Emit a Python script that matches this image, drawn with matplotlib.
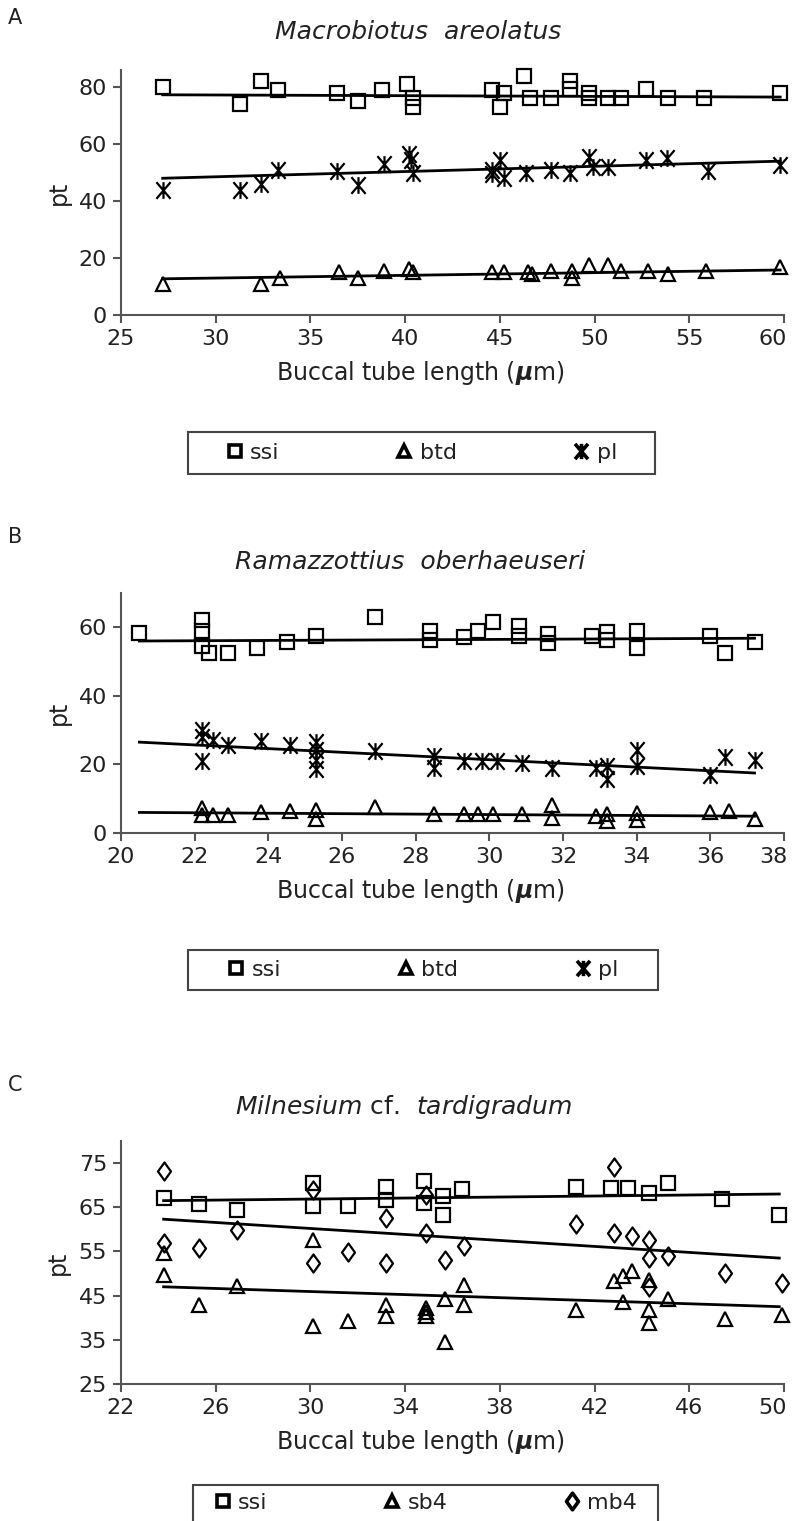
import matplotlib
matplotlib.use('Agg')
import matplotlib.pyplot as plt
from matplotlib.path import Path
from matplotlib.patches import Rectangle
from matplotlib.lines import Line2D
from matplotlib.transforms import ScaledTranslation

plt.rcParams['font.family'] = ['DejaVu Sans']
plt.rcParams['mathtext.fontset'] = 'dejavusans'

# ---- panel A: Macrobiotus areolatus ----
a_ssi_x = [27.2, 31.3, 32.4, 33.3, 36.4, 37.5, 38.8, 40.1, 40.4, 40.4, 44.6, 45.2, 45.0,
           46.3, 46.6, 47.7, 48.7, 48.7, 49.7, 49.7, 50.7, 51.4, 52.7, 53.9, 55.8, 59.8]
a_ssi_y = [80, 74, 82, 79, 78, 75, 79, 81, 76, 73, 79, 78, 73,
           84, 76, 76, 82, 79.5, 78, 76, 76, 76, 79.5, 76, 76, 78]
a_btd_x = [27.2, 32.4, 33.4, 36.5, 37.5, 38.9, 40.2, 40.4, 44.6, 45.2, 46.5, 46.7, 47.7,
           48.8, 48.8, 49.7, 50.7, 51.4, 52.8, 53.9, 55.9, 59.8]
a_btd_y = [11, 11, 13, 15, 13, 15.5, 16, 15, 15, 15, 15, 14.5, 15.5,
           13, 15.5, 17.5, 17.5, 15.5, 15.5, 14.5, 15.5, 17]
a_pl_x = [27.2, 31.3, 32.4, 33.3, 36.4, 37.5, 38.9, 40.2, 40.3, 40.4, 44.6, 44.6, 45.0,
          45.2, 46.4, 47.7, 48.7, 49.7, 49.9, 50.7, 52.7, 53.8, 56.0, 59.8]
a_pl_y = [44, 44, 46, 51, 50.5, 45.5, 53, 56.5, 54.5, 50, 51, 49.5, 54.5,
          48, 50, 51, 50, 55.5, 52, 52, 54.5, 55, 50.5, 52.5]
a_fit_x = [27.2, 59.8]
a_fit_ssi = [77.3, 76.5]
a_fit_btd = [12.7, 15.8]
a_fit_pl = [48.0, 54.0]

# ---- panel B: Ramazzottius oberhaeuseri ----
b_ssi_x = [20.5, 22.2, 22.2, 22.2, 22.4, 22.9, 23.7, 24.5, 25.3, 26.9, 28.4, 28.4, 29.3, 29.7,
           30.1, 30.8, 30.8, 31.6, 31.6, 32.8, 33.2, 33.2, 34.0, 34.0, 36.0, 36.4, 37.2]
b_ssi_y = [58.4, 62, 59, 54.5, 52.5, 52.5, 54, 55.6, 57.4, 63, 59, 56.4, 57.2, 59,
           61.6, 60.3, 57.4, 57.9, 55.4, 57.4, 58.7, 56.4, 59, 54, 57.4, 52.5, 55.6]
b_btd_x = [22.2, 22.2, 22.5, 22.9, 23.8, 24.6, 25.3, 25.3, 26.9, 28.5, 29.3, 29.7, 30.1,
           30.9, 31.7, 31.7, 32.9, 33.2, 33.2, 34.0, 34.0, 36.0, 36.5, 37.2]
b_btd_y = [7.3, 5.3, 5.3, 5.3, 6, 6.3, 6.8, 4.1, 7.5, 5.6, 5.6, 5.6, 5.6,
           5.6, 8.3, 4.4, 4.9, 5.6, 3.4, 5.8, 3.7, 6, 6.3, 4.1]
b_pl_x = [22.2, 22.2, 22.2, 22.5, 22.9, 23.8, 24.6, 25.3, 25.3, 25.3, 25.3, 26.9, 28.5, 28.5,
          29.3, 29.8, 30.2, 30.9, 31.7, 32.9, 33.2, 33.2, 34.0, 34.0, 36.0, 36.4, 37.2]
b_pl_y = [30, 28, 21, 27, 25.8, 26.8, 25.8, 26.5, 24.3, 21.4, 18.7, 23.8, 22.6, 19,
          20.9, 20.9, 20.9, 20.4, 19, 19, 19.5, 15.8, 24.3, 19.5, 17, 22.2, 21.4]
b_fit_x = [20.5, 37.2]
b_fit_ssi = [56.0, 56.8]
b_fit_btd = [6.0, 4.9]
b_fit_pl = [26.5, 17.5]

# ---- panel C: Milnesium cf. tardigradum ----
c_ssi_x = [23.8, 25.3, 26.9, 30.1, 30.1, 31.6, 33.2, 33.2, 34.8, 34.8, 35.6, 35.6, 36.4,
           41.2, 42.7, 43.4, 44.3, 45.1, 47.4, 49.8]
c_ssi_y = [67.1, 65.8, 64.4, 70.5, 65.2, 65.2, 69.7, 66.7, 70.9, 66, 67.5, 63.3, 69.1,
           69.6, 69.3, 69.3, 68.2, 70.6, 66.9, 63.3]
c_sb4_x = [23.8, 23.8, 25.3, 26.9, 30.1, 30.1, 31.6, 33.2, 33.2, 34.9, 34.9, 34.9, 35.7, 35.7,
           36.5, 36.5, 41.2, 42.8, 43.2, 43.2, 43.6, 44.3, 44.3, 44.3, 45.1, 47.5, 49.9]
c_sb4_y = [54.6, 49.7, 42.9, 47.1, 57.6, 38.1, 39.3, 42.9, 40.3, 42.1, 41.4, 40.3, 44.3, 34.4,
           47.5, 42.9, 41.8, 48.2, 49.4, 43.6, 50.5, 48.6, 41.8, 38.8, 44.3, 39.6, 40.7]
c_mb4_x = [23.8, 23.8, 25.3, 26.9, 30.1, 30.1, 31.6, 33.2, 33.2, 34.9, 34.9, 35.7, 36.5,
           41.2, 42.8, 42.8, 43.6, 44.3, 44.3, 44.3, 45.1, 47.5, 49.9]
c_mb4_y = [73.3, 56.9, 55.8, 59.9, 69, 52.4, 54.8, 62.6, 52.4, 59.2, 67.8, 53.1, 56.3,
           61.3, 74.1, 59.2, 58.6, 57.5, 53.5, 47, 54, 50.1, 47.9]
c_fit_x = [23.8, 49.8]
c_fit_ssi = [66.5, 68.0]
c_fit_sb4 = [47.0, 42.5]
c_fit_mb4 = [62.3, 53.5]

W, H = 794, 1521
INK = '#222222'
AXC = '#555555'

# asterisk-like marker: vertical stroke plus an X
STAR = Path([(0, -1), (0, 1), (-0.85, -1), (0.85, 1), (-0.85, 1), (0.85, -1)],
            [Path.MOVETO, Path.LINETO] * 3)
DIAM = Path([(0, 1), (0.72, 0), (0, -1), (-0.72, 0), (0, 1)],
            [Path.MOVETO, Path.LINETO, Path.LINETO, Path.LINETO, Path.CLOSEPOLY])
MARK = {'ssi': ('s', 10), 'btd': ('^', 10), 'sb4': ('^', 10), 'pl': (STAR, 12),
        'mb4': (DIAM, 13)}

fig = plt.figure(figsize=(W / 100, H / 100), dpi=100)


def fx(px):
    return px / W


def fy(py):
    return 1 - py / H


def panel(top, bottom, letter, letter_y, title, title_x, title_y, title_style, series, fit_x,
          xlim, xticks, ylim, yticks, legend_y, legend_box):
    ax = fig.add_axes([fx(121), fy(bottom), fx(784) - fx(121), fy(top) - fy(bottom)])
    for name, xs, ys, fit in series:
        m, ms = MARK[name]
        ax.plot(fit_x, fit, color='k', lw=2, zorder=2)
        ax.plot(xs, ys, ls='none', marker=m, ms=ms, mfc='none', mec='k', mew=1.6, zorder=3,
                clip_on=False)
    ax.set_xlim(*xlim)
    ax.set_ylim(*ylim)
    ax.set_xticks(xticks)
    ax.set_yticks(yticks)
    for s in ['top', 'right']:
        ax.spines[s].set_visible(False)
    for s in ['left', 'bottom']:
        ax.spines[s].set_color(AXC)
        ax.spines[s].set_linewidth(1.5)
    ax.tick_params(direction='out', length=6, width=1.5, color=AXC, labelsize=16,
                   labelcolor=INK, pad=4)
    # last x tick label sits a little to the left, as in the original
    last = ax.get_xticklabels()[-1]
    last.set_transform(last.get_transform() + ScaledTranslation(-11 / 100, 0, fig.dpi_scale_trans))
    ax.set_ylabel('pt', fontsize=17, color=INK, labelpad=6)
    fig.text(fx(420), fy(bottom + 58), r'Buccal tube length ($\boldsymbol{\mu}$m)',
             ha='center', va='center', fontsize=17, color=INK)
    fig.text(fx(8), fy(letter_y), letter, fontsize=15, color=INK, va='center')
    fig.text(fx(title_x), fy(title_y), title, ha='center', va='center', fontsize=18,
             color=INK, style=title_style)

    x0, x1, y0, y1 = legend_box
    fig.add_artist(Rectangle((fx(x0), fy(y1)), fx(x1) - fx(x0), fy(y0) - fy(y1),
                             transform=fig.transFigure, fill=False, lw=1.5, ec='#444444'))
    handles = [Line2D([], [], ls='none', marker=MARK[n][0], ms=MARK[n][1] - 1, mfc='none',
                      mec='k', mew=2.6)
               for n, _, _, _ in series]
    labels = [n for n, _, _, _ in series]
    fig.legend(handles, labels, loc='center', bbox_to_anchor=(fx((x0 + x1) / 2), fy(legend_y)),
               ncol=3, frameon=False, fontsize=16, handlelength=0.8, handletextpad=0.3,
               columnspacing=5.2, labelcolor=INK)
    return ax


panel(70, 315, 'A', 18, 'Macrobiotus  areolatus', 418, 32, 'italic',
      [('ssi', a_ssi_x, a_ssi_y, a_fit_ssi), ('btd', a_btd_x, a_btd_y, a_fit_btd),
       ('pl', a_pl_x, a_pl_y, a_fit_pl)], a_fit_x,
      (25, 60), range(25, 61, 5), (0, 86), range(0, 81, 20), 453, (188, 655, 432, 474))

panel(593, 833, 'B', 537, 'Ramazzottius  oberhaeuseri', 410, 562, 'italic',
      [('ssi', b_ssi_x, b_ssi_y, b_fit_ssi), ('btd', b_btd_x, b_btd_y, b_fit_btd),
       ('pl', b_pl_x, b_pl_y, b_fit_pl)], b_fit_x,
      (20, 38), range(20, 39, 2), (0, 70), range(0, 61, 20), 970, (188, 658, 950, 990))

panel(1141, 1384, 'C', 1085, r'$\mathit{Milnesium}$ cf.  $\mathit{tardigradum}$', 404, 1107,
      'normal',
      [('ssi', c_ssi_x, c_ssi_y, c_fit_ssi), ('sb4', c_sb4_x, c_sb4_y, c_fit_sb4),
       ('mb4', c_mb4_x, c_mb4_y, c_fit_mb4)], c_fit_x,
      (22, 50), range(22, 51, 4), (25, 80), range(25, 76, 10), 1503, (193, 658, 1485, 1530))

fig.savefig('out.png', dpi=100)
